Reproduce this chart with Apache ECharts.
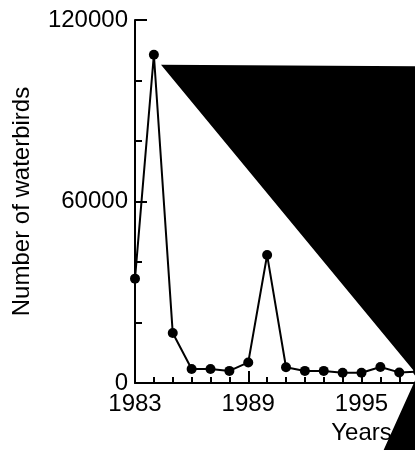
<!DOCTYPE html>
<html>
<head>
<meta charset="utf-8">
<script src="https://cdn.jsdelivr.net/npm/echarts@6/dist/echarts.min.js"></script>
<style>
  html, body { margin: 0; padding: 0; background: #fff; }
  #chart { width: 415px; height: 450px; }
</style>
</head>
<body>
<div id="chart"></div>
<script>
const years = [1983, 1984, 1985, 1986, 1987, 1988, 1989, 1990, 1991, 1992, 1993, 1994, 1995, 1996, 1997, 1998];
const birds = [34500, 108500, 16500, 4600, 4600, 4000, 6800, 42300, 5200, 4000, 4000, 3400, 3400, 5300, 3500, 3800];
const firstYear = 1983;
const lastYear = 2007;
const yMin = 0, yMax = 120000, yStep = 60000;
const xStep = 6;
const xName = 'Years';
const yName = 'Number of waterbirds';

const font = "'Liberation Sans', Arial, Helvetica, sans-serif";
const fs = 24;
const black = '#000';
const chart = echarts.init(document.getElementById('chart'), null, { renderer: 'canvas' });

chart.setOption({
  animation: false,
  backgroundColor: '#fff',
  grid: { left: 135, top: 20, width: 453, height: 363, containLabel: false, outerBoundsMode: 'none' },
  xAxis: {
    type: 'value',
    min: 0,
    max: lastYear - firstYear,
    interval: xStep,
    name: xName,
    nameLocation: 'middle',
    nameGap: 38,
    nameTextStyle: { color: black, fontSize: fs, fontFamily: font },
    axisLine: { lineStyle: { color: black, width: 2 } },
    axisTick: { inside: true, length: 12, lineStyle: { color: black, width: 2 } },
    minorTick: { show: true, splitNumber: 6, length: 6, lineStyle: { color: black, width: 2 } },
    splitLine: { show: false },
    minorSplitLine: { show: false },
    axisLabel: {
      color: black, fontSize: fs, fontFamily: font, margin: 9,
      formatter: v => String(v + firstYear)
    }
  },
  yAxis: {
    type: 'value',
    min: yMin,
    max: yMax,
    interval: yStep,
    name: yName,
    nameLocation: 'middle',
    nameGap: 101,
    nameTextStyle: { color: black, fontSize: fs, fontFamily: font },
    axisLine: { show: true, lineStyle: { color: black, width: 2 } },
    axisTick: { show: true, inside: true, length: 12, lineStyle: { color: black, width: 2 } },
    minorTick: { show: true, splitNumber: 3, length: 7, lineStyle: { color: black, width: 2 } },
    splitLine: { show: false },
    minorSplitLine: { show: false },
    axisLabel: { color: black, fontSize: fs, fontFamily: font, margin: 7, formatter: v => String(v) }
  },
  series: [{
    type: 'line',
    data: years.map((y, i) => [y - firstYear, birds[i]]),
    symbol: 'circle',
    symbolSize: 10,
    showSymbol: true,
    itemStyle: { color: black },
    lineStyle: { color: black, width: 2 },
    z: 3
  }],
  graphic: [{
    type: 'polygon',
    z: 100,
    shape: { points: [[161, 64.8], [440, 66.4], [440, 470], [374.6, 470], [417.4, 375.2]] },
    style: { fill: black }
  }]
});
</script>
</body>
</html>
